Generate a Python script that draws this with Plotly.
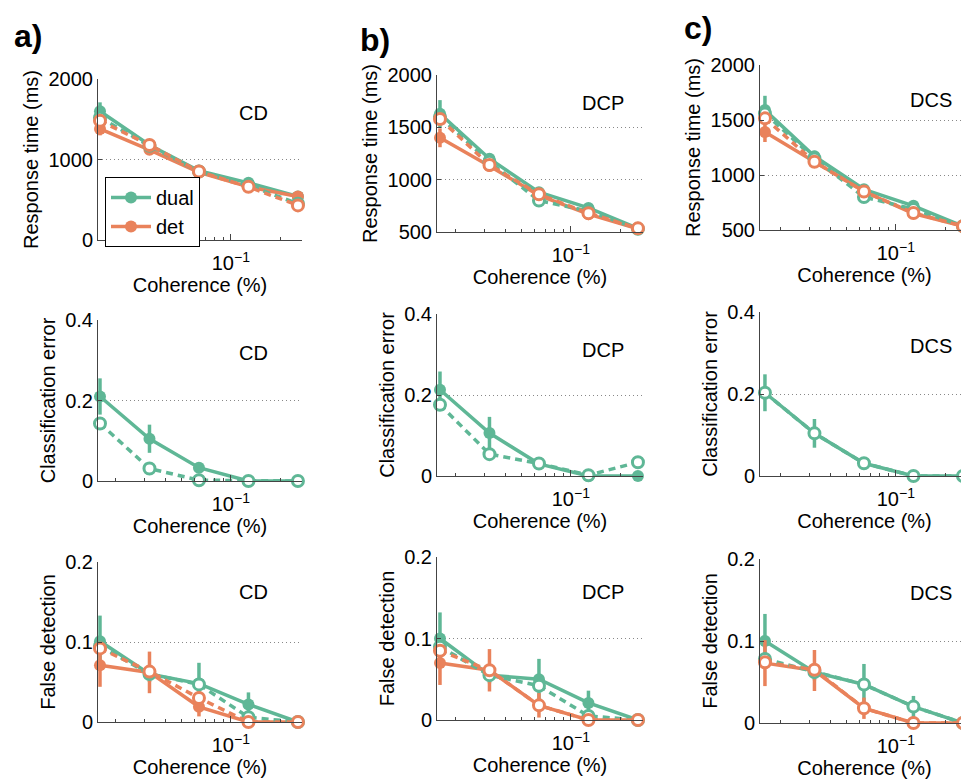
import plotly.graph_objects as go

# ---------------- data ----------------
coherence = [0.016, 0.032, 0.064, 0.128, 0.256]
panels = ["CD", "DCP", "DCS"]
series_names = ["dual", "det"]
x_tick_vals = [0.1]
x_tick_text = ["10<sup>\u22121</sup>"]
x_minor_vals = [0.02, 0.03, 0.04, 0.05, 0.06, 0.07, 0.08, 0.09, 0.2]

# Response time (ms)
rt_cd_dual = [1600, 1180, 860, 710, 540]
rt_cd_dual_err = [110, 50, 40, 30, 25]
rt_cd_dual_dash = [1520, 1170, 850, 680, 450]
rt_cd_det = [1380, 1120, 840, 660, 540]
rt_cd_det_err = [80, 45, 35, 25, 20]
rt_cd_det_dash = [1480, 1180, 850, 660, 430]

rt_dcp_dual = [1630, 1200, 880, 730, 535]
rt_dcp_dual_err = [130, 50, 40, 30, 20]
rt_dcp_dual_dash = [1600, 1170, 800, 700, 530]
rt_dcp_det = [1400, 1130, 850, 670, 530]
rt_dcp_det_err = [90, 40, 35, 25, 20]
rt_dcp_det_dash = [1580, 1140, 860, 680, 535]

rt_dcs_dual = [1590, 1170, 870, 720, 535]
rt_dcs_dual_err = [130, 50, 40, 30, 20]
rt_dcs_dual_dash = [1560, 1150, 800, 690, 535]
rt_dcs_det = [1390, 1120, 850, 650, 535]
rt_dcs_det_err = [90, 40, 35, 25, 20]
rt_dcs_det_dash = [1515, 1120, 850, 655, 535]

# Classification error
ce_cd_dual = [0.21, 0.105, 0.033, 0.0, 0.0]
ce_cd_dual_err = [0.045, 0.035, 0.012, 0.0, 0.0]
ce_cd_dual_dash = [0.143, 0.031, 0.002, 0.0, 0.0]

ce_dcp_dual = [0.213, 0.106, 0.030, 0.0, 0.0]
ce_dcp_dual_err = [0.045, 0.04, 0.012, 0.0, 0.0]
ce_dcp_dual_dash = [0.176, 0.054, 0.031, 0.002, 0.034]

ce_dcs_dual = [0.203, 0.104, 0.031, 0.0, 0.0]
ce_dcs_dual_err = [0.045, 0.035, 0.012, 0.0, 0.0]
ce_dcs_dual_dash = [0.203, 0.104, 0.031, 0.0, 0.0]

# False detection
fd_cd_dual = [0.101, 0.060, 0.048, 0.022, 0.0]
fd_cd_dual_err = [0.032, 0.010, 0.026, 0.015, 0.0]
fd_cd_dual_dash = [0.095, 0.060, 0.047, 0.006, 0.0]
fd_cd_det = [0.071, 0.062, 0.019, 0.0, 0.0]
fd_cd_det_err = [0.027, 0.026, 0.012, 0.0, 0.0]
fd_cd_det_dash = [0.092, 0.063, 0.030, 0.0, 0.0]

fd_dcp_dual = [0.100, 0.055, 0.050, 0.021, 0.0]
fd_dcp_dual_err = [0.032, 0.010, 0.025, 0.015, 0.0]
fd_dcp_dual_dash = [0.090, 0.055, 0.042, 0.005, 0.0]
fd_dcp_det = [0.070, 0.061, 0.018, 0.0, 0.0]
fd_dcp_det_err = [0.027, 0.026, 0.015, 0.0, 0.0]
fd_dcp_det_dash = [0.085, 0.061, 0.018, 0.0, 0.0]

fd_dcs_dual = [0.100, 0.062, 0.047, 0.020, 0.0]
fd_dcs_dual_err = [0.033, 0.010, 0.025, 0.013, 0.0]
fd_dcs_dual_dash = [0.078, 0.062, 0.047, 0.020, 0.0]
fd_dcs_det = [0.073, 0.064, 0.018, 0.0, 0.0]
fd_dcs_det_err = [0.028, 0.025, 0.013, 0.0, 0.0]
fd_dcs_det_dash = [0.074, 0.065, 0.018, 0.0, 0.0]

# ---------------- style / layout ----------------
GREEN = "#5fb796"
ORANGE = "#e9825b"
FONT = "Liberation Sans, Arial, Helvetica, sans-serif"
OFF = 8                      # page body margin
W, H = 969 - OFF, 780 - OFF  # figure size so it ends at the window edge


def px_x(px):
    return (px - OFF) / W


def px_y(py):
    return 1 - (py - OFF) / H


col_px = [(98, 302), (437, 643), (760, 969)]
col_xrange = [(-1.808, -0.567), (-1.814, -0.561), (-1.826, -0.555)]
row_px = [
    [(79, 240), (75, 232), (65, 230)],
    [(320, 481), (314, 476), (312, 476)],
    [(562, 722), (557, 720), (559, 723)],
]
label_pos = [
    [(0.76, 0.79), (0.806, 0.82), (0.82, 0.79)],
    [(0.76, 0.795), (0.806, 0.78), (0.82, 0.79)],
    [(0.76, 0.81), (0.806, 0.785), (0.82, 0.79)],
]
row_titles = ["Response time (ms)", "Classification error", "False detection"]
row_yrange = [[(0, 2000), (500, 2000), (500, 2000)], [(0, 0.4)] * 3, [(0, 0.2)] * 3]
row_yticks = [[[0, 1000, 2000], [500, 1000, 1500, 2000], [500, 1000, 1500, 2000]],
              [[0, 0.2, 0.4]] * 3, [[0, 0.1, 0.2]] * 3]
row_yticktext = [[["0", "1000", "2000"], ["500", "1000", "1500", "2000"], ["500", "1000", "1500", "2000"]],
                 [["0", "0.2", "0.4"]] * 3, [["0", "0.1", "0.2"]] * 3]

data = {
    (0, 0): dict(dual=rt_cd_dual, dual_err=rt_cd_dual_err, dual_dash=rt_cd_dual_dash,
                 det=rt_cd_det, det_err=rt_cd_det_err, det_dash=rt_cd_det_dash),
    (0, 1): dict(dual=rt_dcp_dual, dual_err=rt_dcp_dual_err, dual_dash=rt_dcp_dual_dash,
                 det=rt_dcp_det, det_err=rt_dcp_det_err, det_dash=rt_dcp_det_dash),
    (0, 2): dict(dual=rt_dcs_dual, dual_err=rt_dcs_dual_err, dual_dash=rt_dcs_dual_dash,
                 det=rt_dcs_det, det_err=rt_dcs_det_err, det_dash=rt_dcs_det_dash),
    (1, 0): dict(dual=ce_cd_dual, dual_err=ce_cd_dual_err, dual_dash=ce_cd_dual_dash),
    (1, 1): dict(dual=ce_dcp_dual, dual_err=ce_dcp_dual_err, dual_dash=ce_dcp_dual_dash),
    (1, 2): dict(dual=ce_dcs_dual, dual_err=ce_dcs_dual_err, dual_dash=ce_dcs_dual_dash),
    (2, 0): dict(dual=fd_cd_dual, dual_err=fd_cd_dual_err, dual_dash=fd_cd_dual_dash,
                 det=fd_cd_det, det_err=fd_cd_det_err, det_dash=fd_cd_det_dash),
    (2, 1): dict(dual=fd_dcp_dual, dual_err=fd_dcp_dual_err, dual_dash=fd_dcp_dual_dash,
                 det=fd_dcp_det, det_err=fd_dcp_det_err, det_dash=fd_dcp_det_dash),
    (2, 2): dict(dual=fd_dcs_dual, dual_err=fd_dcs_dual_err, dual_dash=fd_dcs_dual_dash,
                 det=fd_dcs_det, det_err=fd_dcs_det_err, det_dash=fd_dcs_det_dash),
}

fig = go.Figure()
layout = {}
annotations = []

idx = 0
for r in range(3):
    for c in range(3):
        idx += 1
        xa = "x" if idx == 1 else f"x{idx}"
        ya = "y" if idx == 1 else f"y{idx}"
        xkey = "xaxis" if idx == 1 else f"xaxis{idx}"
        ykey = "yaxis" if idx == 1 else f"yaxis{idx}"
        x0, x1 = col_px[c]
        top, bot = row_px[r][c]
        layout[xkey] = dict(
            domain=[px_x(x0), min(px_x(x1), 1.0)], anchor=ya, type="log", automargin=False,
            range=list(col_xrange[c]), showline=True, linecolor="#444", linewidth=1,
            ticks="inside", ticklen=6, tickcolor="#444", tickmode="array",
            tickvals=x_tick_vals, ticktext=x_tick_text, showgrid=False, zeroline=False,
            ticklabelstandoff=5,
            minor=dict(tickmode="array", tickvals=x_minor_vals, ticks="inside", ticklen=3,
                       tickcolor="#444", showgrid=False),
            tickfont=dict(family=FONT, size=20, color="black"),
            title=dict(text="Coherence (%)", font=dict(family=FONT, size=20, color="black"), standoff=0),
        )
        layout[ykey] = dict(
            domain=[px_y(bot), px_y(top)], anchor=xa, range=list(row_yrange[r][c]),
            automargin=False,
            showline=True, linecolor="#444", linewidth=1, ticks="inside", ticklen=4,
            tickcolor="#444", tickmode="array", tickvals=row_yticks[r][c],
            ticktext=row_yticktext[r][c], showgrid=True, gridcolor="#888",
            griddash="1px,3px", gridwidth=1, zeroline=False,
            tickfont=dict(family=FONT, size=20, color="black"),
            title=dict(text=row_titles[r], font=dict(family=FONT, size=20, color="black"), standoff=4),
        )
        lx, ly = label_pos[r][c]
        annotations.append(dict(
            text=panels[c], xref=f"{xa} domain", yref=f"{ya} domain", x=lx, y=ly,
            showarrow=False, font=dict(family=FONT, size=20, color="black"),
            xanchor="center", yanchor="middle"))

        d = data[(r, c)]
        show_leg = (r == 0 and c == 0)
        # solid, filled markers
        fig.add_trace(go.Scatter(
            x=coherence, y=d["dual"], xaxis=xa, yaxis=ya, mode="lines+markers",
            name=series_names[0], showlegend=show_leg, cliponaxis=False,
            line=dict(color=GREEN, width=3.5),
            marker=dict(color=GREEN, size=12, symbol="circle"),
            error_y=dict(type="data", array=d["dual_err"], color=GREEN, thickness=3.5, width=0)))
        if "det" in d:
            fig.add_trace(go.Scatter(
                x=coherence, y=d["det"], xaxis=xa, yaxis=ya, mode="lines+markers",
                name=series_names[1], showlegend=show_leg, cliponaxis=False,
                line=dict(color=ORANGE, width=3.5),
                marker=dict(color=ORANGE, size=12, symbol="circle"),
                error_y=dict(type="data", array=d["det_err"], color=ORANGE, thickness=3.5, width=0)))
        # dashed, open markers
        fig.add_trace(go.Scatter(
            x=coherence, y=d["dual_dash"], xaxis=xa, yaxis=ya, mode="lines+markers",
            showlegend=False, cliponaxis=False,
            line=dict(color=GREEN, width=3.5, dash="7px,5px"),
            marker=dict(color="white", size=11, symbol="circle", line=dict(color=GREEN, width=3))))
        if "det_dash" in d:
            fig.add_trace(go.Scatter(
                x=coherence, y=d["det_dash"], xaxis=xa, yaxis=ya, mode="lines+markers",
                showlegend=False, cliponaxis=False,
                line=dict(color=ORANGE, width=3.5, dash="7px,5px"),
                marker=dict(color="white", size=11, symbol="circle", line=dict(color=ORANGE, width=3))))

for txt, px, py in [("a)", 28, 36), ("b)", 375, 40), ("c)", 698, 28)]:
    annotations.append(dict(
        text=f"<b>{txt}</b>", xref="paper", yref="paper", x=px_x(px), y=px_y(py),
        showarrow=False, font=dict(family=FONT, size=32, color="black"),
        xanchor="center", yanchor="middle"))

fig.update_layout(
    template="none",
    width=W, height=H, margin=dict(l=0, r=0, t=0, b=0, autoexpand=False),
    paper_bgcolor="white", plot_bgcolor="white",
    annotations=annotations,
    legend=dict(x=px_x(105), y=px_y(177), xanchor="left", yanchor="top",
                bordercolor="black", borderwidth=1, bgcolor="white",
                font=dict(family=FONT, size=20, color="black"),
                itemwidth=40, tracegroupgap=0),
    **layout,
)

fig.write_html("out.html")
